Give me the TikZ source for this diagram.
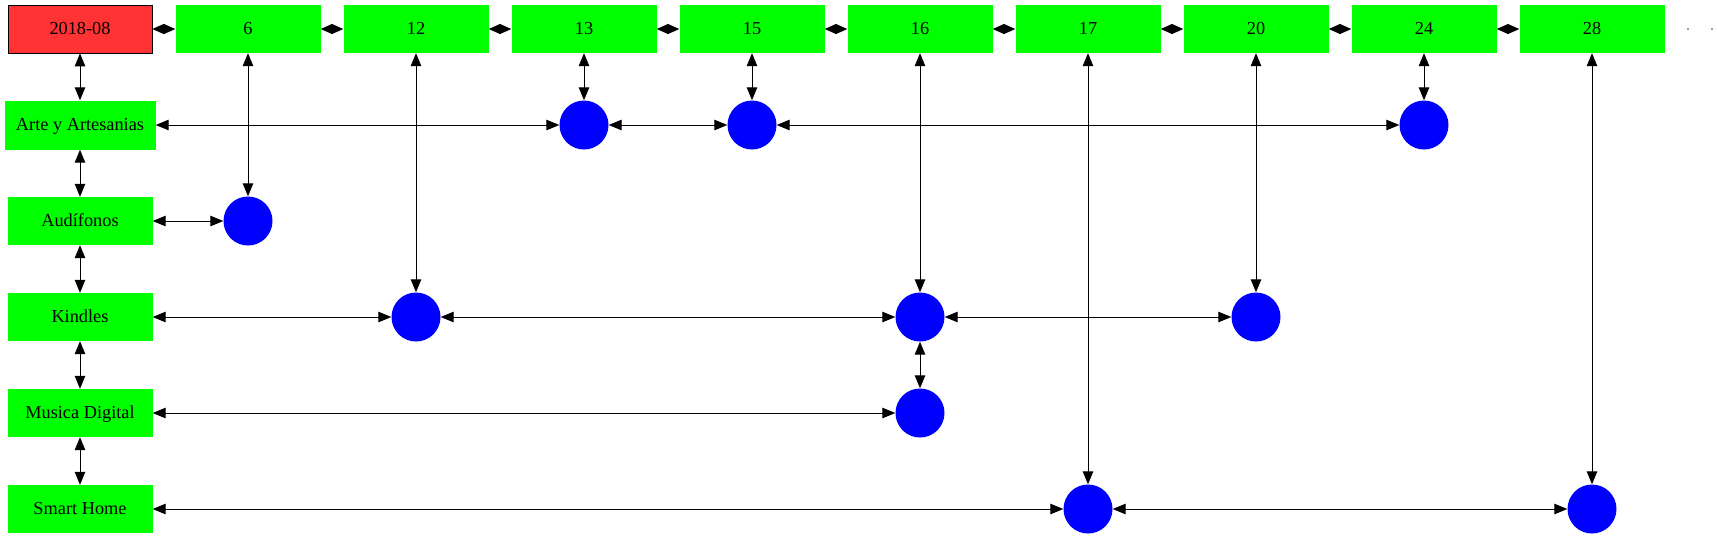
\documentclass[tikz,border=0pt]{standalone}
\usepackage{fontspec}
\setmainfont{Liberation Serif}
\usetikzlibrary{arrows.meta}
\definecolor{boxgreen}{HTML}{00FF00}
\definecolor{boxred}{HTML}{FF3333}
\definecolor{dotblue}{HTML}{0000FF}
\begin{document}
\begin{tikzpicture}[x=1pt,y=-1pt,
  every node/.style={font=\fontsize{18.3}{21}\selectfont, inner sep=0pt},
  gbox/.style={rectangle, fill=boxgreen, minimum width=145pt, minimum height=48pt, text height=13pt, text depth=2.6pt},
  rbox/.style={rectangle, fill=boxred, draw=black, line width=0.8pt, minimum width=144pt, minimum height=48pt, text height=13pt, text depth=2.6pt},
  dot/.style={circle, fill=dotblue, minimum size=49pt},
  link/.style={draw=black, line width=1pt, {Triangle[length=13pt,width=10.5pt]}-{Triangle[length=13pt,width=10.5pt]}},
  toplink/.style={draw=black, line width=1pt, {Triangle[length=11.5pt,width=10pt]}-{Triangle[length=11.5pt,width=10pt]}}
]
\useasboundingbox (0,0) rectangle (1717,539);
% top row
\node[rbox] (d) at (80,29) {2018-08};
\node[gbox] (t6) at (248,29) {6};
\node[gbox] (t12) at (416,29) {12};
\node[gbox] (t13) at (584,29) {13};
\node[gbox] (t15) at (752,29) {15};
\node[gbox] (t16) at (920,29) {16};
\node[gbox] (t17) at (1088,29) {17};
\node[gbox] (t20) at (1256,29) {20};
\node[gbox] (t24) at (1424,29) {24};
\node[gbox] (t28) at (1592,29) {28};
\fill[gray] (1688,29) circle (1.1pt);
\fill[gray] (1712,29) circle (1.1pt);
% left column
\node[gbox, minimum width=151pt, minimum height=49pt] (arte) at (80,125) {Arte y Artesanias};
\node[gbox] (aud) at (80,221) {Audífonos};
\node[gbox] (kin) at (80,317) {Kindles};
\node[gbox] (mus) at (80,413) {Musica Digital};
\node[gbox] (sh) at (80,509) {Smart Home};
% circles
\node[dot] (a13) at (584,125) {};
\node[dot] (a15) at (752,125) {};
\node[dot] (a24) at (1424,125) {};
\node[dot] (u6) at (248,221) {};
\node[dot] (k12) at (416,317) {};
\node[dot] (k16) at (920,317) {};
\node[dot] (k20) at (1256,317) {};
\node[dot] (m16) at (920,413) {};
\node[dot] (s17) at (1088,509) {};
\node[dot] (s28) at (1592,509) {};
% top chain
\draw[toplink] (d) -- (t6);
\draw[toplink] (t6) -- (t12);
\draw[toplink] (t12) -- (t13);
\draw[toplink] (t13) -- (t15);
\draw[toplink] (t15) -- (t16);
\draw[toplink] (t16) -- (t17);
\draw[toplink] (t17) -- (t20);
\draw[toplink] (t20) -- (t24);
\draw[toplink] (t24) -- (t28);
% left chain
\draw[link] (d) -- (arte);
\draw[link] (arte) -- (aud);
\draw[link] (aud) -- (kin);
\draw[link] (kin) -- (mus);
\draw[link] (mus) -- (sh);
% columns
\draw[link] (t6) -- (u6);
\draw[link] (t12) -- (k12);
\draw[link] (t13) -- (a13);
\draw[link] (t15) -- (a15);
\draw[link] (t16) -- (k16);
\draw[link] (k16) -- (m16);
\draw[link] (t17) -- (s17);
\draw[link] (t20) -- (k20);
\draw[link] (t24) -- (a24);
\draw[link] (t28) -- (s28);
% rows
\draw[link] (arte) -- (a13);
\draw[link] (a13) -- (a15);
\draw[link] (a15) -- (a24);
\draw[link] (aud) -- (u6);
\draw[link] (kin) -- (k12);
\draw[link] (k12) -- (k16);
\draw[link] (k16) -- (k20);
\draw[link] (mus) -- (m16);
\draw[link] (sh) -- (s17);
\draw[link] (s17) -- (s28);
\end{tikzpicture}
\end{document}
